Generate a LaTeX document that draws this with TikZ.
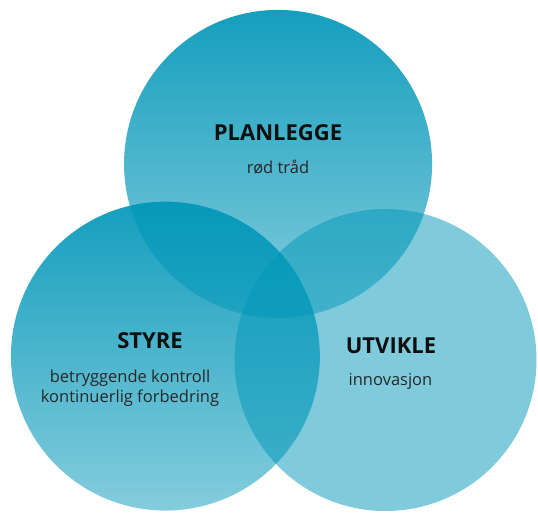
\documentclass[tikz,border=0pt]{standalone}
\usepackage{fontspec}
\setmainfont{Open Sans}
\usetikzlibrary{fadings}
\definecolor{venn}{RGB}{0,150,184}
\definecolor{txt}{RGB}{15,15,15}
\tikzfading[name=vfade, top color=transparent!8, bottom color=transparent!52]
\begin{document}
\begin{tikzpicture}[x=1pt,y=-1pt,
  ring/.style={circle, inner sep=0pt, outer sep=0pt, fill=venn, draw=none},
  title/.style={font=\fontsize{22}{26}\selectfont\bfseries, text=txt, anchor=base, inner sep=0pt},
  sub/.style={font=\fontsize{16.5}{20}\selectfont, text=txt!90!white, anchor=base, inner sep=0pt}]
\useasboundingbox (0,0) rectangle (538,516);
\node[ring, minimum size=308pt, path fading=vfade] (plan) at (278,164) {};
\node[ring, minimum size=309pt, path fading=vfade] (styr) at (165.5,356) {};
\node[ring, minimum size=302pt, fill opacity=0.5] (utv) at (385.5,360) {};
\node[title] (t1) at (278,140) {PLANLEGGE};
\node[sub] (s1) at (278,173.5) {rød tråd};
\node[title] (t2) at (150,348) {STYRE};
\node[sub] (s2a) at (130,382.5) {betryggende kontroll};
\node[sub] (s2b) at (130,402.5) {kontinuerlig forbedring};
\node[title] (t3) at (391,353.5) {UTVIKLE};
\node[sub] (s3) at (390.5,385.5) {innovasjon};
\end{tikzpicture}
\end{document}
